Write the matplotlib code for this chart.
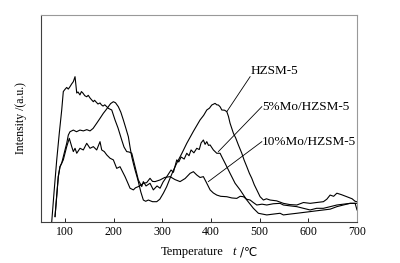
import matplotlib
matplotlib.use("Agg")
import matplotlib.pyplot as plt

# ---- data ----
hz_T = [79.8, 86.5, 90, 93.5, 100.3, 103.8, 107.1, 110.6, 117.4, 124, 131, 138, 145, 151.7, 158,
        165.4, 172, 179, 184, 189.3, 194, 199.6, 204, 209.8, 215, 220.1, 225, 230.4, 234, 237.4, 241,
        244.2, 248, 250.9, 256, 261.2, 266, 271.5, 280, 288.7, 295, 302.3, 309, 316, 323, 329.8, 340,
        350.4, 364, 377.7, 385, 391.5, 397, 401.7, 408.5, 412, 415.3, 419, 422.3, 428, 432.6, 436,
        439.3, 446.1, 451, 456.4, 463.4, 468, 473.7, 479, 483.9, 489, 494.2, 501, 507.8, 514, 521.5,
        535, 548.8, 562, 576.4, 590, 603.7, 617, 631, 638, 644.8, 652, 658.6, 668, 679.1, 690, 696, 699.6]
hz_I = [2.6, 21.9, 26.7, 28.4, 34.8, 38.0, 42.0, 43.6, 44.4, 43.6, 44.4, 44.0, 44.6, 44.0, 45.2,
        47.7, 50.0, 52.5, 54.0, 55.7, 57.2, 58.1, 57.6, 55.7, 53.0, 49.3, 45.5, 41.2, 36.0, 31.5, 28.0,
        25.1, 22.0, 19.5, 14.5, 10.6, 10.0, 10.6, 9.8, 9.8, 11.0, 13.9, 17.0, 21.1, 25.0, 28.4, 33.0,
        38.0, 43.8, 49.3, 51.5, 54.1, 55.0, 56.5, 57.3, 56.6, 56.5, 55.6, 54.1, 54.0, 53.3, 51.0,
        47.7, 42.9, 40.5, 37.2, 33.2, 30.0, 26.7, 23.5, 21.1, 18.0, 15.5, 12.2, 10.6, 11.2, 10.6,
        10.2, 9.0, 8.4, 8.2, 9.4, 9.0, 9.4, 9.8, 11.0, 13.0, 12.4, 13.9, 13.2, 12.2, 11.2, 10.0, 9.8]

mo5_T = [73, 78, 83.3, 88.6, 93.5, 96.8, 100, 103.8, 107, 110.6, 114, 117.4, 120.9, 124.4, 127, 131,
         134, 137, 141, 144.9, 148, 151.7, 155, 158.5, 161, 164, 168, 172.2, 175, 178.4, 182, 186,
         189.3, 196.3, 203, 209.2, 216.8, 221.5, 227, 232, 237.4, 244.2, 250.9, 257.9, 261.2, 266.7,
         274.9, 281.7, 289.3, 295.5, 301.7, 309.3, 318.1, 323, 329.8, 334, 338.7, 345, 350.4, 355,
         359.2, 365, 370.9, 376, 379.8, 384.5, 388, 391.5, 395, 398.3, 405, 412, 418.8, 422.3, 429,
         439.3, 449.6, 459.9, 473.7, 487.2, 497.5, 514.7, 528, 542, 548.8, 562, 576.4, 590, 603.7, 617,
         631, 645, 658.6, 672, 685.9, 696.2, 700]
mo5_I = [0, 15, 30, 43, 54, 63, 64, 65, 64.2, 65.4, 66.7, 67.8, 70.2, 62.3, 62.8, 61.4,
         63.0, 62.3, 61.0, 60.5, 61.2, 59.9, 59.0, 58.1, 58.8, 58.0, 57.0, 57.5, 56.6, 56.0, 56.6, 55.7,
         54.9, 54.1, 49.3, 45.4, 39.6, 36.2, 34.0, 33.8, 33.2, 26.7, 20.3, 17.1, 19.5, 17.4,
         18.7, 15.5, 17.4, 16.3, 19.3, 21.9, 25.1, 24.0, 30.0, 29.0, 31.4, 30.4, 33.2, 32.0,
         34.8, 33.4, 35.6, 35.0, 38.2, 39.6, 37.5, 38.8, 37.0, 37.2, 34.8, 33.2, 33.2, 31.5, 28.4,
         23.5, 18.7, 15.5, 10.6, 6.6, 4.2, 3.4, 3.8, 4.2, 3.4, 3.8, 4.2, 4.6, 5.0, 5.4,
         5.8, 6.2, 7.4, 8.2, 9.0, 9.0, 5.8]

mo10_T = [79.8, 86.5, 90, 96.8, 103.8, 109.1, 114.1, 117.4, 120.9, 124.4, 131.1, 137.9, 144.9, 151.7,
          158.5, 165.4, 172.2, 175.7, 181, 186, 192.8, 199.6, 206.5, 213.3, 218, 223.6, 229, 233.9,
          240.7, 245, 250.9, 256, 261.2, 268, 274.9, 280, 285.2, 295.5, 305, 316, 326, 336.6, 347,
          357.2, 364, 370.9, 377.7, 384.5, 391.5, 398.3, 405, 412, 420, 432.6, 443, 453.1, 460,
          466.8, 473, 480.5, 487, 494.2, 505, 514.7, 528, 542, 548.8, 562, 576.4, 590, 603.7, 617,
          631, 645, 658.6, 672, 685.9, 699.6]
mo10_I = [2.6, 21.9, 26.7, 30.0, 36.4, 40.4, 36.4, 34.0, 35.6, 33.2, 35.6, 34.8, 38.0, 35.6,
          36.4, 34.8, 38.8, 34.8, 34.0, 32.4, 30.8, 30.0, 25.9, 26.7, 24.5, 21.9, 19.0, 16.3,
          15.5, 16.5, 17.1, 17.8, 18.7, 19.0, 21.1, 19.6, 19.5, 20.3, 21.5, 21.9, 20.5, 19.5, 21.0,
          23.5, 24.3, 22.7, 21.5, 21.9, 18.7, 15.5, 14.0, 13.0, 12.4, 12.2, 11.6, 11.4, 12.4,
          12.2, 11.0, 10.6, 9.4, 8.2, 8.6, 8.2, 8.8, 9.0, 8.2, 7.8, 7.4, 6.6, 5.8, 6.6,
          6.6, 7.4, 8.2, 8.6, 9.0, 9.0]

x_ticks = [100, 200, 300, 400, 500, 600, 700]
labels = ["HZSM-5", "5%Mo/HZSM-5", "10%Mo/HZSM-5"]
# leader lines: (curve point T, I) -> (label point T, I)
leader_from = [(432.6, 53.3), (415.3, 34.0), (394.7, 19.5)]
leader_to = [(480.5, 70.2), (504.5, 55.7), (504.5, 38.8)]

plt.rcParams['font.family'] = ['Liberation Serif', 'DejaVu Sans']

fig = plt.figure(figsize=(4.0, 2.63), dpi=100)
ax = fig.add_axes([0.1025, 0.156, 0.79, 0.787])

for T, I in [(hz_T, hz_I), (mo5_T, mo5_I), (mo10_T, mo10_I)]:
    ax.plot(T, I, color='black', lw=0.8)

for (x0, y0), (x1, y1), lab in zip(leader_from, leader_to, labels):
    ax.plot([x0, x1], [y0, y1], color='black', lw=0.6)
    ax.text(x1, y1, lab, fontsize=9.5, ha='left', va='bottom' if lab == "HZSM-5" else 'center')

ax.set_xlim(51, 700)
ax.set_ylim(0, 100)
ax.set_xticks(x_ticks)
ax.set_xticklabels([str(v) for v in x_ticks], fontsize=8.5)
ax.set_yticks([])
ax.tick_params(axis='x', direction='in', length=3, width=0.6, pad=3)
for s in ['left', 'bottom']:
    ax.spines[s].set_color('0.25')
    ax.spines[s].set_linewidth(0.8)
for s in ['top', 'right']:
    ax.spines[s].set_color('0.6')
    ax.spines[s].set_linewidth(0.8)

# x-axis title made of three pieces (plain, italic symbol, unit)
fig.text(0.481, 0.042, "Temperature", fontsize=9, ha='center', va='center')
fig.text(0.585, 0.042, "t", fontsize=9, style='italic', ha='center', va='center')
fig.text(0.6, 0.042, "/℃", fontsize=8.5, ha='left', va='center',
         family=['DejaVu Sans'])
ax.set_ylabel("Intensity /(a.u.)", fontsize=8.5, labelpad=10)

fig.savefig("out.png", dpi=100)
